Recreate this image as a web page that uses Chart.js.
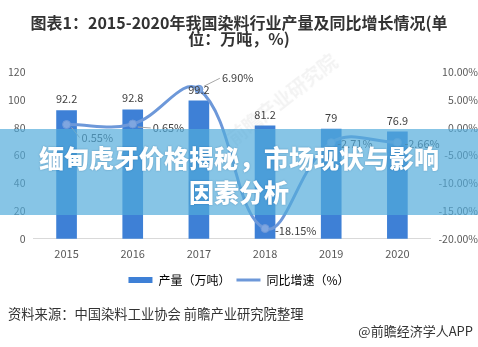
<!DOCTYPE html>
<html>
<head>
<meta charset="utf-8">
<script src="https://cdn.jsdelivr.net/npm/chart.js@4/dist/chart.umd.min.js"></script>
<style>
    body { margin: 0; background: #fff; }
    #wrap { position: relative; width: 478px; height: 347px; overflow: hidden; font-family: "Microsoft YaHei", "Noto Sans CJK SC", sans-serif; }
    #title { position: absolute; left: 0; top: 14px; width: 478px; text-align: center; font-size: 16px; line-height: 16px; font-weight: bold; color: #333; }
    #chartBox { position: absolute; left: 0; top: 0; }
    #mark { position: absolute; left: 215px; top: 85px; transform: rotate(-38deg); font-size: 19px; font-weight: bold; color: rgba(120,120,120,0.09); white-space: nowrap; }
    #banner { position: absolute; left: 0; top: 129px; width: 478px; height: 86px; background: rgba(81,171,219,0.69); }
    #bannerText { position: absolute; left: 0; top: 140px; width: 478px; text-align: center; font-size: 25px; line-height: 34px; font-weight: 900; color: #fff; text-shadow: 0 0 2px rgba(0,60,110,0.35); }
    #source { position: absolute; left: 8px; top: 304px; font-size: 13.3px; color: #333; }
    #brand { position: absolute; right: 5px; top: 321px; font-size: 13px; color: #333; }
</style>
</head>
<body>
<div id="wrap">
    <canvas id="chartBox" width="478" height="347"></canvas>
    <div id="title">图表1：2015-2020年我国染料行业产量及同比增长情况(单<br>位：万吨，%)</div>
    <div id="mark">前瞻产业研究院</div>
    <div id="banner"></div>
    <div id="bannerText">缅甸虎牙价格揭秘，市场现状与影响<br>因素分析</div>
    <div id="source">资料来源：中国染料工业协会 前瞻产业研究院整理</div>
    <div id="brand">@前瞻经济学人APP</div>
</div>
<script>
    // chart data
    var gYears = ["2015", "2016", "2017", "2018", "2019", "2020"];
    var gOutput = [92.2, 92.8, 99.2, 81.2, 79, 76.9];
    var gGrowth = [0.55, 0.65, 6.90, -18.15, -2.71, -2.66];
    var gLeftTicks = [0, 20, 40, 60, 80, 100, 120];
    var gRightTicks = [-20, -15, -10, -5, 0, 5, 10];

    // where each % label sits next to its point: [dx, dy, leader line]
    var gGrowthLabelPos = [
        [15, 13, true],
        [20, 4, true],
        [23, -11, true],
        [10, 2, false],
        [6, 1, false],
        [7, 1, false]
    ];

    var vBarColor = "#3e80d6";
    var vLineColor = "#6d98d9";
    var vFont = "'Microsoft YaHei', 'Noto Sans CJK SC', sans-serif";

    // value labels for bars and growth line
    var valueLabelPlugin = {
        id: "valueLabels",
        afterDatasetsDraw: function (chart) {
            var ctx = chart.ctx;
            ctx.save();
            ctx.font = "11px " + vFont;
            ctx.fillStyle = "#404040";
            var barMeta = chart.getDatasetMeta(0);
            ctx.textAlign = "center";
            ctx.textBaseline = "bottom";
            barMeta.data.forEach(function (bar, i) {
                ctx.fillText(String(gOutput[i]), bar.x, bar.y - 6);
            });
            var lineMeta = chart.getDatasetMeta(1);
            ctx.textAlign = "left";
            ctx.textBaseline = "middle";
            lineMeta.data.forEach(function (pt, i) {
                var p = gGrowthLabelPos[i];
                var tx = pt.x + p[0];
                var ty = pt.y + p[1];
                if (p[2]) {
                    ctx.strokeStyle = "#a6a6a6";
                    ctx.lineWidth = 1;
                    ctx.beginPath();
                    ctx.moveTo(pt.x + 5, pt.y + (p[1] > 0 ? 3 : -3));
                    if (p[1] < 0) {
                        ctx.lineTo(tx - 6, ty + 2);
                        ctx.lineTo(tx - 2, ty);
                    } else {
                        ctx.lineTo(tx - 2, ty);
                    }
                    ctx.stroke();
                }
                ctx.fillText(gGrowth[i].toFixed(2) + "%", tx, ty);
            });
            ctx.restore();
        }
    };

    var vCtx = document.getElementById("chartBox").getContext("2d");
    new Chart(vCtx, {
        type: "bar",
        data: {
            labels: gYears,
            datasets: [
                {
                    label: "产量（万吨）",
                    data: gOutput,
                    backgroundColor: vBarColor,
                    barThickness: 20,
                    yAxisID: "y",
                    order: 2
                },
                {
                    type: "line",
                    label: "同比增速（%）",
                    data: gGrowth,
                    borderColor: vLineColor,
                    backgroundColor: vLineColor,
                    borderWidth: 3,
                    pointRadius: 4,
                    pointBorderWidth: 1,
                    pointBackgroundColor: "#7fa6e0",
                    tension: 0.4,
                    yAxisID: "y1",
                    order: 1
                }
            ]
        },
        options: {
            responsive: false,
            animation: false,
            layout: { padding: { top: 72, left: 0, right: 0, bottom: 51 } },
            scales: {
                x: {
                    grid: { display: false, drawTicks: false },
                    border: { color: "#d9d9d9" },
                    ticks: { color: "#595959", padding: 8, font: { size: 11, family: vFont } }
                },
                y: {
                    position: "left",
                    min: gLeftTicks[0],
                    max: gLeftTicks[gLeftTicks.length - 1],
                    afterBuildTicks: function (axis) {
                        axis.ticks = gLeftTicks.map(function (v) { return { value: v }; });
                    },
                    grid: { display: false, drawTicks: false },
                    border: { display: false },
                    ticks: { color: "#595959", padding: 8, font: { size: 10.5, family: vFont } }
                },
                y1: {
                    position: "right",
                    min: gRightTicks[0],
                    max: gRightTicks[gRightTicks.length - 1],
                    afterBuildTicks: function (axis) {
                        axis.ticks = gRightTicks.map(function (v) { return { value: v }; });
                    },
                    grid: { display: false, drawTicks: false },
                    border: { display: false },
                    ticks: {
                        color: "#595959",
                        padding: 4,
                        crossAlign: "far",
                        font: { size: 10.5, family: vFont },
                        callback: function (v) { return v.toFixed(2) + "%"; }
                    }
                }
            },
            plugins: {
                tooltip: { enabled: false },
                legend: {
                    position: "bottom",
                    labels: {
                        color: "#595959",
                        font: { size: 12, family: vFont },
                        usePointStyle: true,
                        pointStyleWidth: 24,
                        boxHeight: 6,
                        padding: 6,
                        generateLabels: function (chart) {
                            return [
                                { text: "产量（万吨）", fillStyle: vBarColor, strokeStyle: vBarColor, lineWidth: 0, pointStyle: "rect", datasetIndex: 0 },
                                { text: "同比增速（%）", fillStyle: vLineColor, strokeStyle: vLineColor, lineWidth: 3, pointStyle: "line", datasetIndex: 1 }
                            ];
                        }
                    }
                }
            }
        },
        plugins: [valueLabelPlugin]
    });
</script>
</body>
</html>
